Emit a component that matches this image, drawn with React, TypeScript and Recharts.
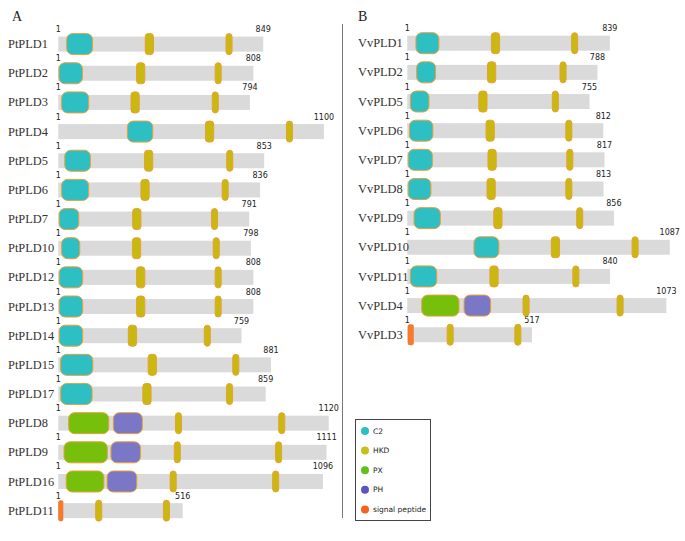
import { BarChart, Bar, XAxis, YAxis, Legend } from "recharts";

type Range = [number, number] | null;

// ---- Panel A (Populus) ----
const namesA = [
  "PtPLD1", "PtPLD2", "PtPLD3", "PtPLD4", "PtPLD5", "PtPLD6", "PtPLD7", "PtPLD10", "PtPLD12",
  "PtPLD13", "PtPLD14", "PtPLD15", "PtPLD17", "PtPLD8", "PtPLD9", "PtPLD16", "PtPLD11",
];
const lengthsA = [849, 808, 794, 1100, 853, 836, 791, 798, 808, 808, 759, 881, 859, 1120, 1111, 1096, 516];
const c2A: Range[] = [
  [36, 143], [4, 101], [15, 127], [287, 392], [28, 134], [15, 127], [5, 86], [15, 90], [5, 102],
  [5, 102], [5, 102], [11, 144], [11, 141], null, null, null, null,
];
const hkd1A: Range[] = [
  [361, 395], [325, 359], [302, 336], [610, 644], [358, 392], [343, 377], [309, 343], [308, 342], [325, 359],
  [325, 359], [291, 325], [373, 407], [351, 385], [486, 511], [481, 506], [464, 489], [156, 181],
];
const hkd2A: Range[] = [
  [695, 720], [650, 675], [638, 663], [945, 970], [698, 723], [679, 704], [635, 660], [642, 667], [650, 675],
  [650, 675], [605, 630], [723, 748], [697, 722], [913, 938], [900, 925], [888, 913], [436, 461],
];
const pxA: Range[] = [null, null, null, null, null, null, null, null, null, null, null, null, null, [44, 210], [25, 204], [34, 190], null];
const phA: Range[] = [null, null, null, null, null, null, null, null, null, null, null, null, null, [229, 349], [219, 341], [203, 326], null];
const spA: Range[] = [null, null, null, null, null, null, null, null, null, null, null, null, null, null, null, null, [1, 22]];

// ---- Panel B (Vitis) ----
const namesB = ["VvPLD1", "VvPLD2", "VvPLD5", "VvPLD6", "VvPLD7", "VvPLD8", "VvPLD9", "VvPLD10", "VvPLD11", "VvPLD4", "VvPLD3"];
const lengthsB = [839, 788, 755, 812, 817, 813, 856, 1087, 840, 1073, 517];
const c2B: Range[] = [[37, 132], [40, 118], [14, 91], [10, 107], [5, 105], [5, 99], [29, 138], [277, 380], [14, 123], null, null];
const hkd1B: Range[] = [[349, 383], [333, 367], [297, 331], [327, 361], [335, 369], [331, 365], [359, 393], [597, 631], [343, 377], [480, 505], [166, 191]];
const hkd2B: Range[] = [[681, 706], [633, 658], [601, 626], [657, 682], [661, 686], [657, 682], [702, 727], [931, 956], [686, 711], [869, 894], [446, 471]];
const pxB: Range[] = [null, null, null, null, null, null, null, null, null, [61, 215], null];
const phB: Range[] = [null, null, null, null, null, null, null, null, null, [236, 346], null];
const spB: Range[] = [null, null, null, null, null, null, null, null, null, null, [3, 28]];

const legendItems = [
  { label: "C2", color: "#2cbfc4" },
  { label: "HKD", color: "#c4c01c" },
  { label: "PX", color: "#5fc01a" },
  { label: "PH", color: "#5c55c0" },
  { label: "signal peptide", color: "#f4621e" },
];

const SERIF = "'Liberation Serif', 'Times New Roman', serif";
const SANS = "'DejaVu Sans', Verdana, sans-serif";
const BORDER = "#e8a03a";

function buildRows(
  names: string[], lengths: number[], c2: Range[], hkd1: Range[], hkd2: Range[],
  px: Range[], ph: Range[], sp: Range[],
) {
  return names.map((name, i) => ({
    name,
    len: lengths[i],
    bg: [1, lengths[i]],
    c2: c2[i],
    hkd1: hkd1[i],
    hkd2: hkd2[i],
    px: px[i],
    ph: ph[i],
    sp: sp[i],
  }));
}

const rowsA = buildRows(namesA, lengthsA, c2A, hkd1A, hkd2A, pxA, phA, spA);
const rowsB = buildRows(namesB, lengthsB, c2B, hkd1B, hkd2B, pxB, phB, spB);

function Backbone(props: any) {
  const { x, y, width, height, payload } = props;
  const cy = y + height / 2;
  return (
    <g>
      <rect x={x} y={cy - 7.5} width={width} height={15} fill="#dadada" />
      <text x={x} y={cy - 12} textAnchor="middle" fontSize={8} fontFamily={SANS} fill="#222">1</text>
      <text x={x + width} y={cy - 12} textAnchor="middle" fontSize={8} fontFamily={SANS} fill="#222">
        {payload.len}
      </text>
    </g>
  );
}

function domainShape(key: string, fill: string, stroke: string, rx: number) {
  return (props: any) => {
    const { x, y, width, height, payload } = props;
    if (!payload || !payload[key] || !isFinite(x) || !isFinite(width)) return <g />;
    const cy = y + height / 2;
    return (
      <rect
        x={x}
        y={cy - 10.5}
        width={width}
        height={21}
        rx={rx}
        ry={rx}
        fill={fill}
        stroke={stroke}
        strokeWidth={stroke === "none" ? 0 : 1}
      />
    );
  };
}

const c2Shape = domainShape("c2", "#2dbfc2", BORDER, 6);
const hkd1Shape = domainShape("hkd1", "#c9b80e", BORDER, 3);
const hkd2Shape = domainShape("hkd2", "#c9b80e", BORDER, 3);
const pxShape = domainShape("px", "#76c00c", BORDER, 6);
const phShape = domainShape("ph", "#7a77c6", BORDER, 6);
const spShape = domainShape("sp", "#f57a2c", "none", 2);

function LegendBox() {
  return (
    <div style={{ width: 76, height: 102, border: "1px solid #444", boxSizing: "border-box", background: "#fff" }}>
      <svg width={74} height={100}>
        {legendItems.map((item, i) => (
          <g key={item.label}>
            <circle cx={9} cy={11 + i * 19.6} r={4} fill={item.color} />
            <text x={17} y={11 + i * 19.6} dominantBaseline="central" fontSize={7.5} fontFamily={SANS} fill="#222">
              {item.label}
            </text>
          </g>
        ))}
      </svg>
    </div>
  );
}

interface PanelProps {
  rows: ReturnType<typeof buildRows>;
  left: number;
  width: number;
  top: number;
  bottom: number;
  labelX: number;
  withLegend?: boolean;
}

function Panel({ rows, left, width, top, bottom, labelX, withLegend }: PanelProps) {
  return (
    <div style={{ position: "absolute", left, top: 0 }}>
      <BarChart
        layout="vertical"
        width={width}
        height={541}
        data={rows}
        margin={{ top, bottom, left: 0, right: width - 336 }}
        barSize={21}
        barGap={-21}
      >
        <XAxis type="number" domain={[0, 1150]} hide />
        <YAxis
          type="category"
          dataKey="name"
          width={58}
          axisLine={false}
          tickLine={false}
          interval={0}
          tick={(p: any) => (
            <text x={labelX} y={p.y} dominantBaseline="central" fontSize={12.4} fontFamily={SERIF} fill="#333">
              {p.payload.value}
            </text>
          )}
        />
        <Bar dataKey="bg" shape={Backbone} isAnimationActive={false} />
        <Bar dataKey="c2" shape={c2Shape} isAnimationActive={false} />
        <Bar dataKey="px" shape={pxShape} isAnimationActive={false} />
        <Bar dataKey="ph" shape={phShape} isAnimationActive={false} />
        <Bar dataKey="sp" shape={spShape} isAnimationActive={false} />
        <Bar dataKey="hkd1" shape={hkd1Shape} isAnimationActive={false} />
        <Bar dataKey="hkd2" shape={hkd2Shape} isAnimationActive={false} />
        {withLegend && (
          <Legend
            layout="vertical"
            align="center"
            verticalAlign="middle"
            wrapperStyle={{ left: 6, top: 419, width: 76, height: 102 }}
            content={() => <LegendBox />}
          />
        )}
      </BarChart>
    </div>
  );
}

export default function App() {
  return (
    <div style={{ position: "absolute", left: 0, top: 0, width: 685, height: 541, overflow: "hidden", background: "#fff" }}>
      <Panel rows={rowsA} left={0} width={345} top={29.6} bottom={15.7} labelX={8} />
      <Panel rows={rowsB} left={349} width={336} top={28.7} bottom={191.6} labelX={9} withLegend />
      <svg width={685} height={541} style={{ position: "absolute", left: 0, top: 0, pointerEvents: "none" }}>
        <text x={12} y={21} fontSize={14} fontFamily={SERIF} fill="#222">A</text>
        <text x={358} y={21} fontSize={14} fontFamily={SERIF} fill="#222">B</text>
        <line x1={342.5} y1={24} x2={342.5} y2={518} stroke="#777" strokeWidth={1} />
      </svg>
    </div>
  );
}
